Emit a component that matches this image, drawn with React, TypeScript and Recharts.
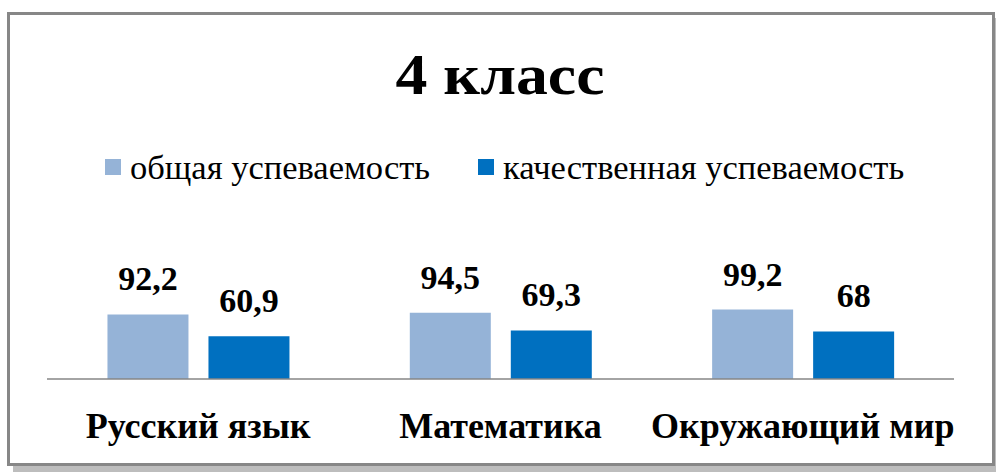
import React from 'react';
import { BarChart, Bar, XAxis, YAxis, Legend, LabelList } from 'recharts';

const categories = ['Русский язык', 'Математика', 'Окружающий мир'];
const overallValues = [92.2, 94.5, 99.2];
const qualityValues = [60.9, 69.3, 68];
const seriesNames = ['общая успеваемость', 'качественная успеваемость'];
const titleText = '4 класс';

const data = categories.map((c, i) => ({
  name: c,
  overall: overallValues[i],
  quality: qualityValues[i],
}));

const FONT = "'Liberation Serif', 'Times New Roman', serif";

const fmt = (v: any) => String(v).replace('.', ',');

const LegendContent = (props: any) => {
  const payload = props.payload || [];
  const ordered = seriesNames
    .map((n) => payload.find((p: any) => p.value === n))
    .filter(Boolean);
  return (
    <div style={{ display: 'flex', alignItems: 'center', fontFamily: FONT, fontSize: 34.5, color: '#000', whiteSpace: 'nowrap' }}>
      {ordered.map((e: any, i: number) => (
        <div key={i} style={{ display: 'flex', alignItems: 'center', marginRight: i === 0 ? 48 : 0 }}>
          <span style={{ display: 'inline-block', width: 16, height: 16, background: e.color, marginRight: 9 }} />
          <span style={{ lineHeight: '34px' }}>{e.value}</span>
        </div>
      ))}
    </div>
  );
};

export default function App() {
  return (
    <div style={{ position: 'absolute', left: 0, top: 0, width: 996, height: 472, background: '#fff', fontFamily: FONT }}>
      <div
        style={{
          position: 'absolute',
          left: 7,
          top: 12,
          width: 982,
          height: 448,
          border: '3px solid #878787',
          boxShadow: '6px 6px 0 #bdbdbd',
          background: '#fff',
        }}
      />
      <div
        style={{
          position: 'absolute',
          left: 0,
          top: 46,
          width: 1000,
          textAlign: 'center',
          fontFamily: FONT,
          fontWeight: 'bold',
          fontSize: 58,
          lineHeight: '58px',
          color: '#000',
          transform: 'scaleX(1.1)',
          transformOrigin: '500px 0',
        }}
      >
        {titleText}
      </div>
      <div style={{ position: 'absolute', left: 0, top: 0 }}>
        <BarChart
          width={996}
          height={472}
          data={data}
          margin={{ top: 309, right: 42, bottom: 33, left: 47 }}
          barCategoryGap="20%"
          barGap={20}
        >
          <XAxis
            dataKey="name"
            height={60}
            tickLine={false}
            tickSize={0}
            tickMargin={33}
            axisLine={{ stroke: '#868686', strokeWidth: 1.5 }}
            tick={{ fontFamily: FONT, fontWeight: 'bold', fontSize: 36, fill: '#000' }}
            interval={0}
          />
          <YAxis hide domain={[0, 100]} />
          <Legend
            layout="horizontal"
            verticalAlign="middle"
            align="center"
            wrapperStyle={{ top: 150, left: 105, width: 'auto' }}
            content={LegendContent}
          />
          <Bar dataKey="overall" name={seriesNames[0]} fill="#95B3D7" isAnimationActive={false}>
            <LabelList
              dataKey="overall"
              position="top"
              offset={24}
              formatter={fmt}
              fontFamily={FONT}
              fontWeight="bold"
              fontSize={34}
              fill="#000"
            />
          </Bar>
          <Bar dataKey="quality" name={seriesNames[1]} fill="#0070C0" isAnimationActive={false}>
            <LabelList
              dataKey="quality"
              position="top"
              offset={24}
              formatter={fmt}
              fontFamily={FONT}
              fontWeight="bold"
              fontSize={34}
              fill="#000"
            />
          </Bar>
        </BarChart>
      </div>
    </div>
  );
}
